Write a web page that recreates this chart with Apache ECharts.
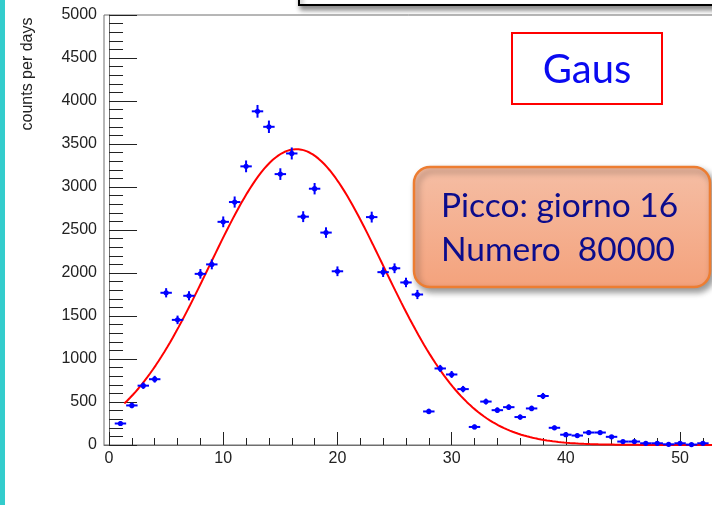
<!DOCTYPE html>
<html>
<head>
<meta charset="utf-8">
<script src="https://cdn.jsdelivr.net/npm/echarts@6/dist/echarts.min.js"></script>
<style>
  html, body { margin: 0; padding: 0; background: #ffffff; }
  #chart { width: 712px; height: 505px; }
</style>
</head>
<body>
<div id="chart"></div>
<script>
// Daily counts (bin centre = day number); days 21 and 22 are empty.
const days = [1, 2, 3, 4, 5, 6, 7, 8, 9, 10, 11, 12, 13, 14, 15, 16, 17, 18, 19, 20,
  21, 22, 23, 24, 25, 26, 27, 28, 29, 30, 31, 32, 33, 34, 35, 36, 37, 38, 39, 40,
  41, 42, 43, 44, 45, 46, 47, 48, 49, 50, 51, 52];
const counts = [250, 460, 690, 765, 1770, 1455, 1735, 1990, 2100, 2595, 2825, 3240, 3880, 3700, 3150, 3390, 2655, 2980, 2470, 2020,
  null, null, 2650, 2010, 2055, 1890, 1750, 390, 890, 820, 650, 210, 505, 405, 440, 325, 425, 570, 200, 120,
  110, 145, 145, 95, 40, 40, 20, 20, 8, 20, 5, 20];

// Gaussian fit parameters: constant, mean, sigma, and fitted range
const fitConstant = 3440;
const fitMean = 16.4;
const fitSigma = 7.6;
const fitRange = [1.34, 60];

// Axis tick labels
const xMajorTicks = [0, 10, 20, 30, 40, 50, 60];
const xMinorStep = 2;

// Annotation texts
const boxTitle = 'Gaus';
const noteLines = ['Picco: giorno 16', 'Numero  80000'];
const yTitle = 'counts per days';

// Poisson error bars
const points = [];
days.forEach((d, i) => {
  if (counts[i] != null) points.push([d, counts[i], Math.sqrt(counts[i])]);
});

// Fit curve sampled along its range
const fitCurve = [];
for (let x = fitRange[0]; x <= fitRange[1] + 1e-9; x += 0.25) {
  const z = (x - fitMean) / fitSigma;
  fitCurve.push([x, fitConstant * Math.exp(-0.5 * z * z)]);
}

const xMinorTicks = [];
for (let v = 0; v <= 60; v += xMinorStep) {
  if (xMajorTicks.indexOf(v) < 0) xMinorTicks.push(v);
}

const xMin = -0.44, xMax = 60.5;
const rootFont = 'Liberation Sans';
const plain = v => String(v);
const chart = echarts.init(document.getElementById('chart'), null, { renderer: 'canvas' });

chart.setOption({
  animation: false,
  backgroundColor: '#ffffff',
  grid: {
    left: 104, top: 15, width: 696, height: 430,
    containLabel: false, outerBoundsMode: 'none',
    show: true, borderColor: '#6e6e6e', borderWidth: 1, backgroundColor: 'transparent'
  },
  xAxis: [
    {
      type: 'value', min: xMin, max: xMax, position: 'bottom',
      axisLine: { show: true, onZero: false, lineStyle: { color: '#6e6e6e', width: 1 } },
      axisTick: { show: true, inside: true, length: 13, customValues: xMajorTicks, lineStyle: { color: '#222' } },
      axisLabel: { show: true, customValues: xMajorTicks, formatter: plain, fontSize: 16, color: '#222', margin: 6, fontFamily: rootFont, hideOverlap: false },
      splitLine: { show: false }
    },
    {
      type: 'value', min: xMin, max: xMax, position: 'bottom',
      axisLine: { show: false, onZero: false },
      axisTick: { show: true, inside: true, length: 7, customValues: xMinorTicks, lineStyle: { color: '#222' } },
      axisLabel: { show: false },
      splitLine: { show: false }
    }
  ],
  yAxis: {
    type: 'value', min: 0, max: 5000, interval: 500,
    axisLine: { show: true, lineStyle: { color: '#6e6e6e', width: 1 } },
    axisTick: { show: true, inside: true, length: 28, lineStyle: { color: '#222' } },
    minorTick: { show: true, splitNumber: 5, length: 14, lineStyle: { color: '#222' } },
    axisLabel: { formatter: plain, fontSize: 16, color: '#222', margin: 7, fontFamily: rootFont, hideOverlap: false },
    splitLine: { show: false },
    minorSplitLine: { show: false }
  },
  series: [
    {
      type: 'line',
      name: 'fit',
      xAxisIndex: 0,
      data: fitCurve,
      showSymbol: false,
      lineStyle: { color: '#ff0000', width: 2 },
      z: 2
    },
    {
      type: 'custom',
      name: 'counts',
      xAxisIndex: 0,
      data: points,
      z: 3,
      renderItem: function (params, api) {
        const x = api.value(0), y = api.value(1), e = api.value(2);
        const c = api.coord([x, y]);
        const l = api.coord([x - 0.5, y]);
        const r = api.coord([x + 0.5, y]);
        const t = api.coord([x, y + e]);
        const b = api.coord([x, y - e]);
        const st = { stroke: '#0000ff', lineWidth: 2 };
        return {
          type: 'group',
          children: [
            { type: 'line', shape: { x1: l[0], y1: l[1], x2: r[0], y2: r[1] }, style: st },
            { type: 'line', shape: { x1: t[0], y1: t[1] - 1, x2: b[0], y2: b[1] + 1 }, style: st },
            { type: 'circle', shape: { cx: c[0], cy: c[1], r: 2.6 }, style: { fill: '#0000ff' } }
          ]
        };
      }
    }
  ],
  graphic: [
    // cyan side band
    { type: 'rect', left: 0, top: 0, shape: { width: 5, height: 505 }, style: { fill: '#33cccc' }, z: 10 },
    // statistics box clipped at the top edge
    {
      type: 'rect', x: 299, y: -40, shape: { width: 520, height: 45 },
      style: { fill: '#ffffff', stroke: '#000000', lineWidth: 2, shadowBlur: 5, shadowOffsetX: 2, shadowOffsetY: 4, shadowColor: 'rgba(0,0,0,0.45)' },
      z: 10
    },
    // fit label box
    {
      type: 'rect', x: 512, y: 33, shape: { width: 150, height: 71 },
      style: { fill: '#ffffff', stroke: '#ff0000', lineWidth: 2 }, z: 10
    },
    {
      type: 'text', x: 587, y: 70, z: 11,
      style: { text: boxTitle, fill: '#0a0af0', font: '40px Lato', textAlign: 'center', textVerticalAlign: 'middle' }
    },
    // peak note
    {
      type: 'rect', x: 414, y: 167, shape: { width: 296, height: 120, r: 16 },
      style: {
        fill: new echarts.graphic.LinearGradient(0, 0, 0, 1, [
          { offset: 0, color: '#f5bea5' },
          { offset: 1, color: '#f4a27c' }
        ]),
        stroke: '#ed7d31', lineWidth: 2.5,
        shadowBlur: 6, shadowOffsetX: 3, shadowOffsetY: 4, shadowColor: 'rgba(0,0,0,0.4)'
      },
      z: 10
    },
    {
      type: 'text', x: 441, y: 206, z: 11,
      style: { text: noteLines[0], fill: '#0c0c8c', font: '33.5px Lato', textAlign: 'left', textVerticalAlign: 'middle' }
    },
    {
      type: 'text', x: 441, y: 250, z: 11,
      style: { text: noteLines[1], fill: '#0c0c8c', font: '33.5px Lato', textAlign: 'left', textVerticalAlign: 'middle' }
    },
    // y axis title
    {
      type: 'text', x: 28, y: 74, rotation: Math.PI / 2, z: 11,
      style: { text: yTitle, fill: '#222', font: '16px "Liberation Sans"', textAlign: 'center', textVerticalAlign: 'middle' }
    }
  ]
});
</script>
</body>
</html>
